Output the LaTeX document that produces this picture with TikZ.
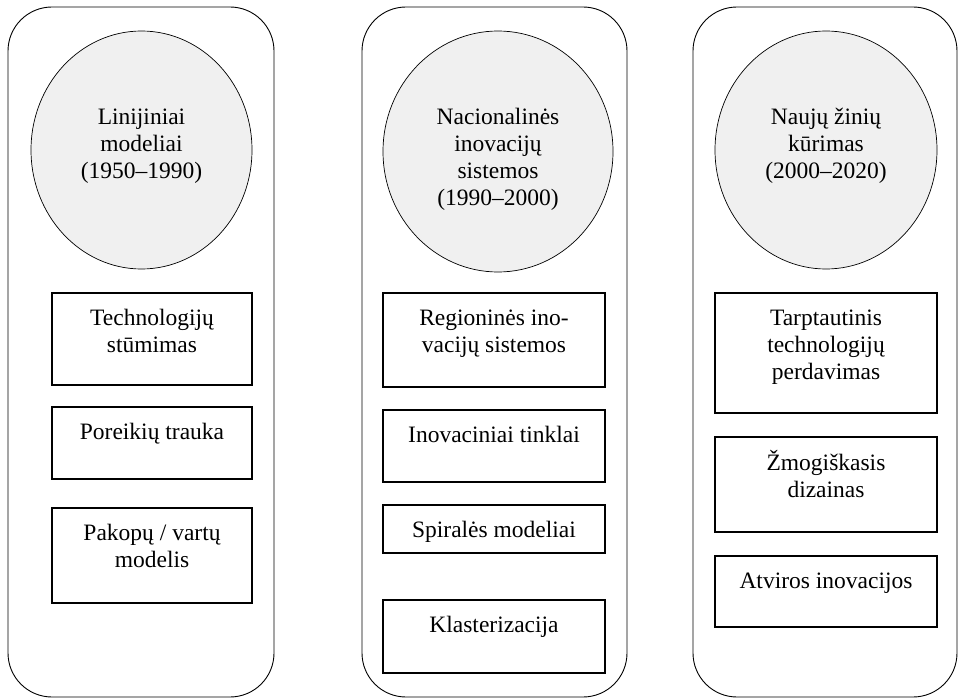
\documentclass[tikz,border=0pt]{standalone}
\usepackage{fontspec}
\setmainfont{Liberation Serif}
\usetikzlibrary{shapes.geometric}

\tikzset{
  panel/.style={draw, line width=0.9pt, rounded corners=44pt},
  era/.style={draw, ellipse, fill=black!6, line width=0.7pt, inner sep=0pt},
  box/.style={draw, line width=1.6pt, inner sep=0pt},
  txt/.style={anchor=north, inner sep=0pt, align=center,
    font=\fontsize{23.5}{27}\selectfont}
}

\begin{document}
\begin{tikzpicture}[x=1pt, y=-1pt]
    \useasboundingbox (0, 0) rectangle (958, 698);

    % Panels
    \node[panel, minimum width=266pt, minimum height=690pt] (p1) at (141, 352) {};
    \node[panel, minimum width=265pt, minimum height=690pt] (p2) at (494.5, 352) {};
    \node[panel, minimum width=264pt, minimum height=690pt] (p3) at (825, 352) {};

    % Eras
    \node[era, minimum width=221pt, minimum height=238pt] (c1) at (141.5, 150) {};
    \node[era, minimum width=230pt, minimum height=241pt] (c2) at (498, 151.5) {};
    \node[era, minimum width=222pt, minimum height=238pt] (c3) at (826, 150) {};
    \node[txt] (tc1) at ([yshift=-75pt]c1.north) {\strut Linijiniai\\modeliai\\(1950--1990)};
    \node[txt] (tc2) at ([yshift=-75pt]c2.north) {\strut Nacionalinės\\inovacijų\\sistemos\\(1990--2000)};
    \node[txt] (tc3) at ([yshift=-75pt]c3.north) {\strut Naujų žinių\\kūrimas\\(2000--2020)};

    % Column 1
    \node[box, minimum width=200pt, minimum height=92pt] (b11) at (152, 339) {};
    \node[box, minimum width=200pt, minimum height=72pt] (b12) at (152, 443) {};
    \node[box, minimum width=200pt, minimum height=95pt] (b13) at (152, 555.5) {};
    \node[txt] (t11) at ([yshift=-14pt]b11.north) {\strut Technologijų\\stūmimas};
    \node[txt] (t12) at ([yshift=-14pt]b12.north) {\strut Poreikių trauka};
    \node[txt] (t13) at ([yshift=-14pt]b13.north) {\strut Pakopų / vartų\\modelis};

    % Column 2
    \node[box, minimum width=222pt, minimum height=94pt] (b21) at (494, 340) {};
    \node[box, minimum width=222pt, minimum height=72pt] (b22) at (494, 446) {};
    \node[box, minimum width=222pt, minimum height=48pt] (b23) at (494, 529) {};
    \node[box, minimum width=222pt, minimum height=73pt] (b24) at (494, 636.5) {};
    \node[txt] (t21) at ([yshift=-14pt]b21.north) {\strut Regioninės ino-\\vacijų sistemos};
    \node[txt] (t22) at ([yshift=-14pt]b22.north) {\strut Inovaciniai tinklai};
    \node[txt] (t23) at ([yshift=-14pt]b23.north) {\strut Spiralės modeliai};
    \node[txt] (t24) at ([yshift=-14pt]b24.north) {\strut Klasterizacija};

    % Column 3
    \node[box, minimum width=222pt, minimum height=120pt] (b31) at (826, 353) {};
    \node[box, minimum width=222pt, minimum height=95pt] (b32) at (826, 484.5) {};
    \node[box, minimum width=222pt, minimum height=71pt] (b33) at (826, 591.5) {};
    \node[txt] (t31) at ([yshift=-14pt]b31.north) {\strut Tarptautinis\\technologijų\\perdavimas};
    \node[txt] (t32) at ([yshift=-14pt]b32.north) {\strut Žmogiškasis\\dizainas};
    \node[txt] (t33) at ([yshift=-14pt]b33.north) {\strut Atviros inovacijos};
\end{tikzpicture}
\end{document}
